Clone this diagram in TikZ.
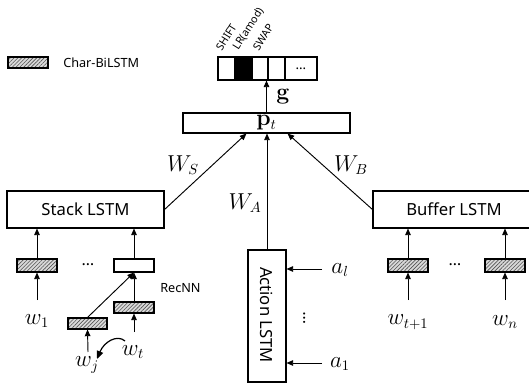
\documentclass[tikz,border=0pt]{standalone}
\usepackage[no-math]{fontspec}
\setmainfont{Noto Sans}
\usetikzlibrary{arrows.meta,patterns.meta,calc}
\begin{document}
\begin{tikzpicture}[x=0.75pt,y=-0.75pt,
  sz/.style 2 args={minimum width=#1*0.75pt, minimum height=#2*0.75pt},
  plain/.style={draw, line width=0.8pt, inner sep=0pt},
  hatchbox/.style={draw, line width=0.8pt, inner sep=0pt,
     preaction={fill=gray!30},
     pattern={Lines[angle=45,distance=2pt,line width=0.45pt]}, pattern color=gray!65!black},
  arr/.style={-{Triangle[length=5pt,width=4.2pt]}, line width=0.7pt},
  lbl/.style={font=\fontsize{12.5}{14}\selectfont},
  mlbl/.style={inner sep=0pt, font=\fontsize{16}{18}\selectfont},
  small/.style={inner sep=0pt, font=\fontsize{9.5}{11}\selectfont},
  dotsty/.style={inner sep=0pt, font=\fontsize{12}{13}\selectfont},
  act/.style={inner sep=0pt, anchor=south west, rotate=58, font=\fontsize{8}{9}\selectfont}
]
\useasboundingbox (0,0) rectangle (529,385);

% legend
\node[hatchbox, sz={40}{11}] (leg) at (28,62.5) {};
\node[small, anchor=west] (legt) at (63,63) {Char-BiLSTM};

% output vector
\node[plain, sz={17}{23}] (c1) at (226.5,68.5) {};
\node[plain, sz={17}{23}, fill=black] (c2) at (243.5,68.5) {};
\node[plain, sz={16}{23}] (c3) at (260,68.5) {};
\node[plain, sz={17}{23}] (c4) at (276.5,68.5) {};
\node[plain, sz={32}{23}, font=\fontsize{10}{11}\selectfont] (c5) at (301,68.5) {…};
\node[act] (shift) at (222,52) {SHIFT};
\node[act] (lr) at (240,52) {LR(amod)};
\node[act] (swap) at (259,52) {SWAP};

% p_t
\node[plain, sz={167}{20}, font=\fontsize{16}{18}\selectfont] (pt) at (266.5,123) {$\mathbf{p}_t$};
\node[mlbl] (g) at (283,97) {$\mathbf{g}$};
\draw[arr] (pt.north) -- (pt.north |- c3.south);

% LSTMs
\node[plain, sz={157}{37}, lbl] (stack) at (85.5,209.5) {Stack LSTM};
\node[plain, sz={162}{37}, lbl] (buffer) at (454,209.5) {Buffer LSTM};
\node[plain, sz={38}{132}] (action) at (267,316) {};
\node[lbl, rotate=-90, inner sep=0pt] (actt) at (267,315) {Action LSTM};

\draw[arr] (stack.east) -- ($(pt.south west)+(64,0)$);
\draw[arr] (action.north) -- (action.north |- pt.south);
\draw[arr] (buffer.west) -- ($(pt.south east)+(-63,0)$);
\node[mlbl] (ws) at (183,165) {$W_S$};
\node[mlbl] (wa) at (245,203) {$W_A$};
\node[mlbl] (wb) at (351,165) {$W_B$};

% action inputs
\node[mlbl] (al) at (340,270) {$a_l$};
\node[mlbl] (a1) at (340,364) {$a_1$};
\coordinate (alS) at (322,269);
\coordinate (a1S) at (322,363);
\draw[arr] (alS) -- (alS -| action.east);
\draw[arr] (a1S) -- (a1S -| action.east);
\node[dotsty, rotate=90] (vd) at (305,318) {…};

% stack inputs
\node[hatchbox, sz={40}{13}] (hb1) at (37,265.5) {};
\node[plain, sz={40}{13}] (rec) at (134,265.5) {};
\node[hatchbox, sz={40}{11}] (hbt) at (134,307.5) {};
\node[hatchbox, sz={39}{11}] (hbj) at (87.5,323.5) {};
\node[dotsty] (dots1) at (88,265) {…};
\node[small, anchor=west] (recl) at (160,288) {RecNN};
\node[mlbl] (w1) at (37,321) {$w_1$};
\node[mlbl] (wt) at (133,352) {$w_t$};
\node[mlbl] (wj) at (87,365) {$w_j$};
\coordinate (w1S) at (37,300);
\coordinate (wtS) at (134,332);
\coordinate (wjS) at (88,352);
\draw[arr] (w1S) -- (hb1.south);
\draw[arr] (hb1.north) -- (hb1.north |- stack.south);
\draw[arr] (rec.north) -- (rec.north |- stack.south);
\draw[arr] (hbt.north) -- (rec.south);
\draw[arr] (hbj.north) -- (rec.south);
\draw[arr] (wtS) -- (hbt.south);
\draw[arr] (wjS) -- (hbj.south);
\coordinate (cvS) at (125,341);
\coordinate (cvE) at (97,359);
\draw[-{Triangle[length=6pt,width=5pt]}, line width=0.9pt] (cvS) .. controls (117,334) and (104,342) .. (cvE);

% buffer inputs
\node[hatchbox, sz={40}{13}] (hb3) at (408,265.5) {};
\node[hatchbox, sz={40}{13}] (hb4) at (505,265.5) {};
\node[dotsty] (dots2) at (455,265) {…};
\node[mlbl] (wt1) at (408,322) {$w_{t+1}$};
\node[mlbl] (wn) at (505,322) {$w_n$};
\coordinate (wt1S) at (408,300);
\coordinate (wnS) at (505,300);
\draw[arr] (wt1S) -- (hb3.south);
\draw[arr] (wnS) -- (hb4.south);
\draw[arr] (hb3.north) -- (hb3.north |- buffer.south);
\draw[arr] (hb4.north) -- (hb4.north |- buffer.south);
\end{tikzpicture}
\end{document}
